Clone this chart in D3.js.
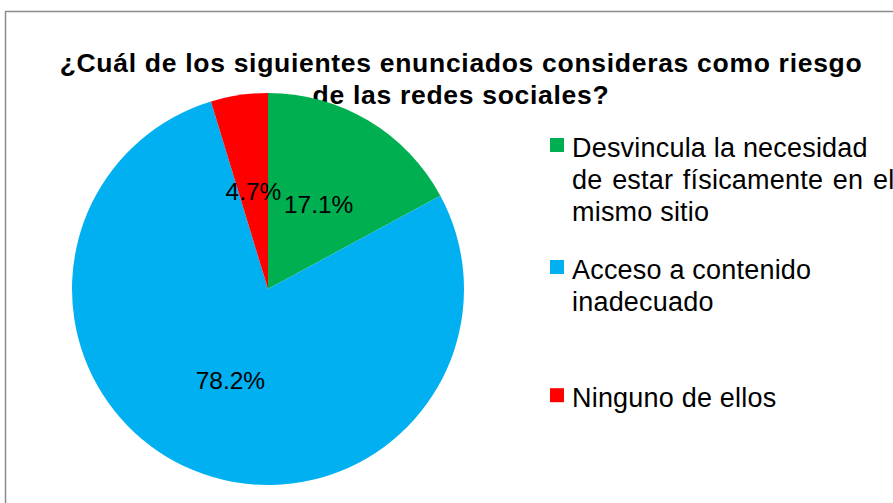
<!DOCTYPE html>
<html>
<head>
<meta charset="utf-8">
<script src="https://cdn.jsdelivr.net/npm/d3@7"></script>
<style>
  html, body { margin: 0; padding: 0; background: #fff; }
  svg { display: block; font-family: "Liberation Sans", Arial, sans-serif; }
</style>
</head>
<body>
<svg id="chart" width="893" height="503"></svg>
<script>
const titleLines = ["¿Cuál de los siguientes enunciados consideras como riesgo", "de las redes sociales?"];
const categories = ["Desvincula la necesidad de estar físicamente en el mismo sitio", "Acceso a contenido inadecuado", "Ninguno de ellos"];
const legendLines = [["Desvincula la necesidad", "de estar físicamente en el", "mismo sitio"], ["Acceso a contenido", "inadecuado"], ["Ninguno de ellos"]];
const values = [17.1, 78.2, 4.7];
const labels = ["17.1%", "78.2%", "4.7%"];
const colors = ["#00B050", "#00B0F0", "#FF0000"];

const svg = d3.select("#chart");
const W = 893, H = 503;

// outer border
svg.append("rect")
  .attr("x", 5.5).attr("y", 11.5)
  .attr("width", W + 10).attr("height", H + 10)
  .attr("fill", "#fff").attr("stroke", "#8c8c8c").attr("stroke-width", 1.5);

// title
const title = svg.append("text")
  .attr("text-anchor", "middle")
  .attr("font-size", 26.5).attr("font-weight", "bold").attr("fill", "#000")
  .attr("letter-spacing", 0.7);
titleLines.forEach((t, i) => {
  title.append("tspan").attr("x", 461).attr("y", 72 + i * 31.5).text(t);
});

// pie
const cx = 268, cy = 289, r = 196;
const pie = d3.pie().sort(null).value(d => d)(values);
const arc = d3.arc().innerRadius(0).outerRadius(r);
const labelArc = d3.arc().innerRadius(r * 0.505).outerRadius(r * 0.505);

const g = svg.append("g").attr("transform", `translate(${cx},${cy})`);
g.selectAll("path").data(pie).join("path")
  .attr("d", arc)
  .attr("fill", (d, i) => colors[i]);

g.selectAll("text.lbl").data(pie).join("text")
  .attr("class", "lbl")
  .attr("transform", d => `translate(${labelArc.centroid(d)})`)
  .attr("text-anchor", "middle")
  .attr("dy", "0.35em")
  .attr("font-size", 24.5).attr("fill", "#000")
  .text((d, i) => labels[i]);

// legend
const legendTop = [156.5, 278.5, 406.7];
const lineH = 32;
const leg = svg.append("g");
categories.forEach((c, i) => {
  leg.append("rect")
    .attr("x", 550).attr("y", legendTop[i] - 18.5)
    .attr("width", 14).attr("height", 14)
    .attr("fill", colors[i]);
  const t = leg.append("text").attr("font-size", 27).attr("fill", "#000")
    .attr("letter-spacing", 0.2);
  legendLines[i].forEach((ln, j) => {
    t.append("tspan").attr("x", 572).attr("y", legendTop[i] + j * lineH)
      .attr("word-spacing", j === 1 && i === 0 ? 2 : 0)
      .text(ln);
  });
});
</script>
</body>
</html>
